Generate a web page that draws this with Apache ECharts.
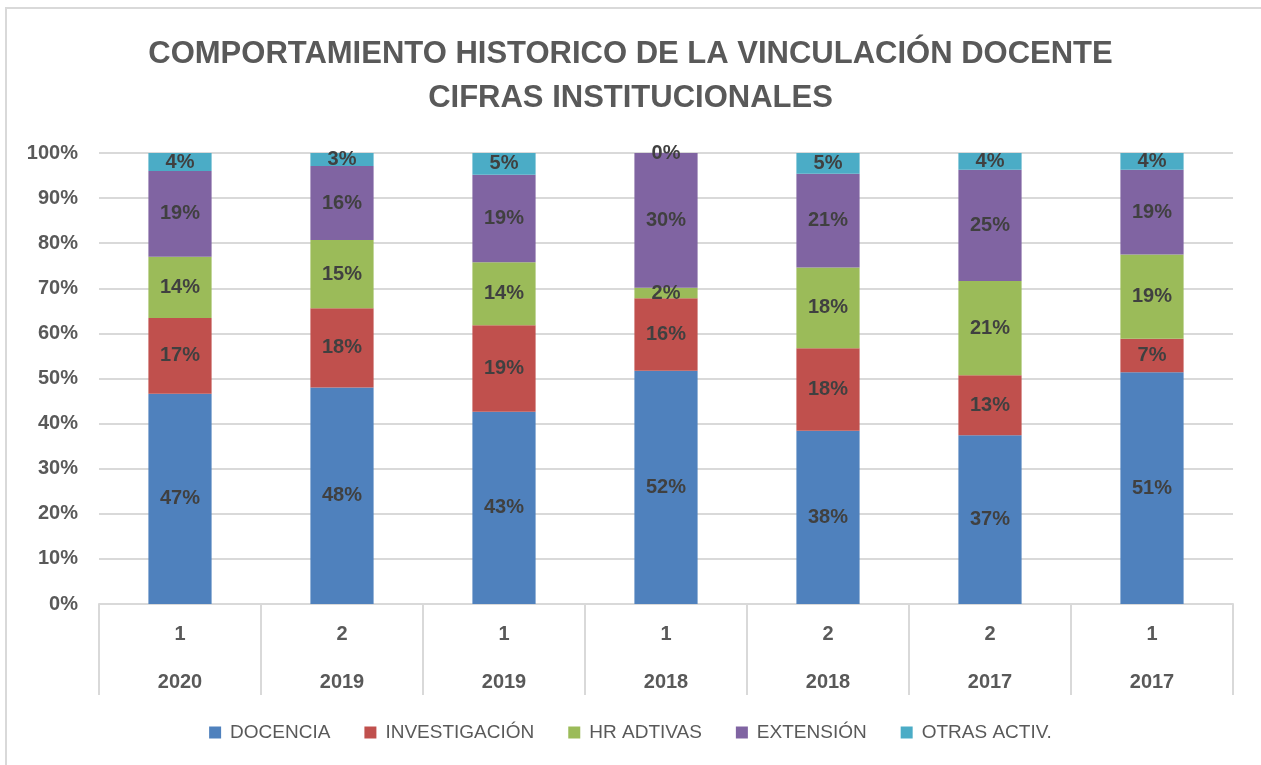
<!DOCTYPE html>
<html>
<head>
<meta charset="utf-8">
<title>Vinculación docente</title>
<script src="https://cdn.jsdelivr.net/npm/echarts@6/dist/echarts.min.js"></script>
<style>
  html, body { margin: 0; padding: 0; background: #fff; }
  #main { width: 1261px; height: 765px; }
</style>
</head>
<body>
<div id="main"></div>
<script>
"use strict";

// periodos (semestre / año)
let semestres = ['1', '2', '1', '1', '2', '2', '1'];
let anios = ['2020', '2019', '2019', '2018', '2018', '2017', '2017'];

// porcentajes por actividad
let docencia = [46.6, 48.0, 42.6, 51.7, 38.4, 37.4, 51.4];
let investigacion = [16.8, 17.6, 19.2, 16.1, 18.3, 13.3, 7.4];
let hrAdtivas = [13.6, 15.1, 14.0, 2.3, 17.9, 20.9, 18.7];
let extension = [19.0, 16.4, 19.4, 29.9, 20.8, 24.7, 18.8];
let otras = [4.0, 2.9, 4.8, 0.0, 4.6, 3.7, 3.7];

let yTicks = [0, 10, 20, 30, 40, 50, 60, 70, 80, 90, 100];

let textGray = '#595959';
let fontFam = '"Liberation Sans", Arial, sans-serif';

let myChart = echarts.init(document.getElementById('main'));

function makeSeries(name, data, color) {
  return {
    name: name,
    type: 'bar',
    stack: 'total',
    barCategoryGap: '61%',
    data: data,
    itemStyle: { color: color },
    label: {
      show: true,
      position: 'inside',
      color: '#404040',
      fontFamily: fontFam,
      fontWeight: 'bold',
      fontSize: 20,
      formatter: function (p) {
        return Math.round(p.value) + '%';
      },
    },
  };
}

let option = {
  backgroundColor: '#fff',
  animation: false,
  textStyle: { fontFamily: fontFam },
  title: { // título en dos líneas
    text: 'COMPORTAMIENTO HISTORICO DE LA VINCULACIÓN DOCENTE\nCIFRAS INSTITUCIONALES',
    left: 'center',
    top: 27,
    textStyle: {
      color: textGray,
      fontFamily: fontFam,
      fontWeight: 'bold',
      fontSize: 31,
      lineHeight: 44,
    },
  },
  graphic: [
    { // borde del área del gráfico
      type: 'rect',
      shape: { x: 6, y: 8, width: 1400, height: 900 },
      style: { fill: 'none', stroke: '#d9d9d9', lineWidth: 2 },
      silent: true,
    },
  ],
  legend: {
    bottom: 18,
    left: 'center',
    itemWidth: 12,
    itemHeight: 12,
    itemGap: 34,
    icon: 'rect',
    textStyle: { color: textGray, fontSize: 19, fontFamily: fontFam, padding: [0, 0, 0, 4] },
    data: ['DOCENCIA', 'INVESTIGACIÓN', 'HR ADTIVAS', 'EXTENSIÓN', 'OTRAS ACTIV.'],
  },
  grid: {
    left: 99,
    right: 28,
    top: 153,
    bottom: 161,
  },
  xAxis: {
    type: 'category',
    data: semestres.map(function (s, i) { return s + '\n' + anios[i]; }),
    axisLine: { show: true, lineStyle: { color: '#d9d9d9', width: 2 } },
    axisTick: {
      show: true,
      length: 91,
      lineStyle: { color: '#d9d9d9', width: 2 },
    },
    axisLabel: {
      margin: 6,
      color: textGray,
      fontFamily: fontFam,
      fontWeight: 'bold',
      fontSize: 20,
      lineHeight: 48,
    },
  },
  yAxis: {
    type: 'value',
    min: 0,
    max: 100,
    interval: yTicks[1] - yTicks[0],
    axisLine: { show: false },
    axisTick: { show: false },
    splitLine: { lineStyle: { color: '#d9d9d9', width: 2 } },
    axisLabel: {
      margin: 21,
      color: textGray,
      fontFamily: fontFam,
      fontWeight: 'bold',
      fontSize: 20,
      formatter: '{value}%',
    },
  },
  series: [
    makeSeries('DOCENCIA', docencia, '#4F81BD'),
    makeSeries('INVESTIGACIÓN', investigacion, '#C0504D'),
    makeSeries('HR ADTIVAS', hrAdtivas, '#9BBB59'),
    makeSeries('EXTENSIÓN', extension, '#8064A2'),
    makeSeries('OTRAS ACTIV.', otras, '#4BACC6'),
  ],
};

myChart.setOption(option);
</script>
</body>
</html>
